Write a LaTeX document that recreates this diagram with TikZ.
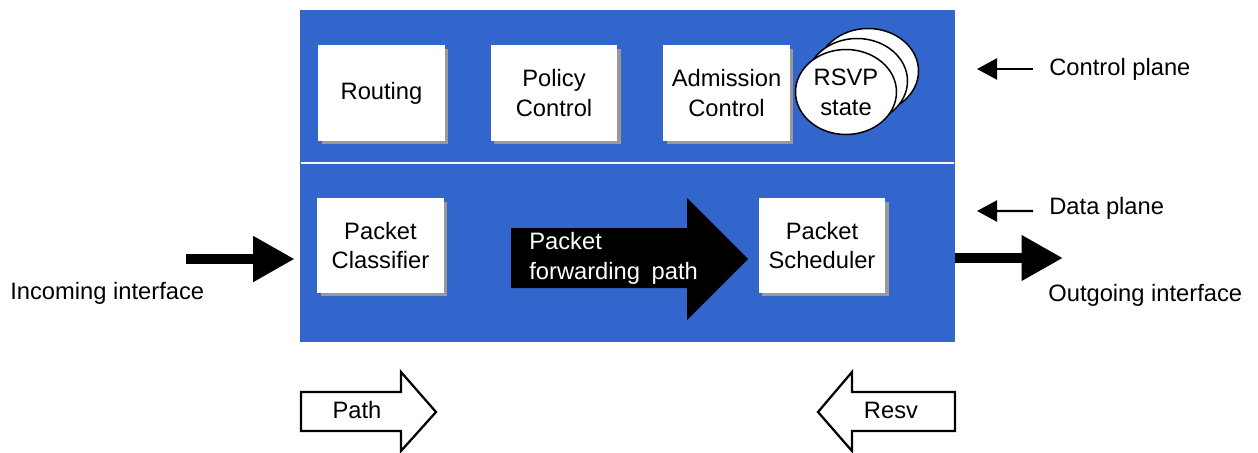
\documentclass[tikz,border=0pt]{standalone}
\usepackage{fontspec}
\setmainfont{Liberation Sans}
\usetikzlibrary{shapes.geometric,shadows,arrows.meta}

\definecolor{planeblue}{HTML}{3366CC}

\newcommand{\boxwidth}{2.54cm}
\newcommand{\boxheight}{1.92cm}

\begin{document}
\begin{tikzpicture}[x=0.02cm, y=-0.02cm,
	font=\fontsize{13.5}{17}\selectfont,
	planebox/.style={rectangle, fill=white, align=center,
		minimum width=\boxwidth, minimum height=\boxheight,
		drop shadow={shadow xshift=0.07cm, shadow yshift=-0.07cm,
			fill=black!40, opacity=1}},
	statebubble/.style={ellipse, draw, line width=0.03cm, fill=white,
		minimum width=2.02cm, minimum height=1.7cm,
		align=center, inner sep=0pt},
	fatarrow/.style={line width=0.21cm,
		-{Triangle[length=0.83cm, width=0.86cm]}},
	thinarrow/.style={line width=0.045cm,
		-{Triangle[length=0.4cm, width=0.42cm]}},
	blockarrow/.style={draw, line width=0.045cm, fill=white}]

\useasboundingbox (0,0) rectangle (1258,453);

% Router
\node[rectangle, fill=planeblue,
	minimum width=13.1cm, minimum height=6.64cm,
	inner sep=0pt] (router) at (627.5,176) {};

\coordinate (sepL) at (301,163);
\coordinate (sepR) at (954,163);
\draw[white, line width=0.04cm] (sepL) -- (sepR);

% Control plane
\foreach \name/\x/\txt in {routing/381.5/Routing,
	policy/554/{Policy\\Control},
	admission/726.5/{Admission\\Control}}
{
	\node[planebox] (\name) at (\x,93) {\txt};
}

% RSVP state
\node[statebubble] (state3) at (868,71) {};
\node[statebubble] (state2) at (857,81) {};
\node[statebubble] (state1) at (846,92) {RSVP\\state};

% Data plane
\node[planebox, minimum height=1.9cm] (classifier) at (380.5,245.5)
	{Packet\\Classifier};
\node[planebox, minimum height=1.9cm] (scheduler) at (822,245.5)
	{Packet\\Scheduler};

% Forwarding path
\fill (511,228) -- (687,228) -- (687,198) -- (748,259)
	-- (687,320) -- (687,288) -- (511,288) -- cycle;
\node[white, align=left, anchor=west, inner sep=0pt] (forwarding)
	at (529,258) {Packet\\forwarding\hspace{0.1cm} path};

% Interfaces
\coordinate (inStart) at (186,259);
\draw[fatarrow, shorten >=0.1cm] (inStart) -- (inStart -| router.west);
\node[anchor=west, inner sep=0pt] (incoming) at (10,293)
	{Incoming interface};

\coordinate (outTip) at (1063,258);
\draw[fatarrow] (outTip -| router.east) -- (outTip);
\node[anchor=west, inner sep=0pt] (outgoing) at (1048,295)
	{Outgoing interface};

% Planes
\node[anchor=west, inner sep=0pt] (ctrlplane) at (1049,69) {Control plane};
\coordinate (ctrlTip) at (977,69);
\draw[thinarrow] ([xshift=-0.32cm]ctrlplane.west) -- (ctrlTip);

\node[anchor=west, inner sep=0pt] (dataplane) at (1049,208) {Data plane};
\coordinate (dataTip) at (977,211);
\draw[thinarrow] ([xshift=-0.32cm, yshift=-0.06cm]dataplane.west) -- (dataTip);

% Messages
\draw[blockarrow] (301,392) -- (401,392) -- (401,372) -- (436,412)
	-- (401,451) -- (401,431) -- (301,431) -- cycle;
\node (path) at (357,410) {Path};

\draw[blockarrow] (818,412) -- (852,372) -- (852,392) -- (955,392)
	-- (955,431) -- (852,431) -- (852,451) -- cycle;
\node (resv) at (891,410) {Resv};

\end{tikzpicture}
\end{document}
